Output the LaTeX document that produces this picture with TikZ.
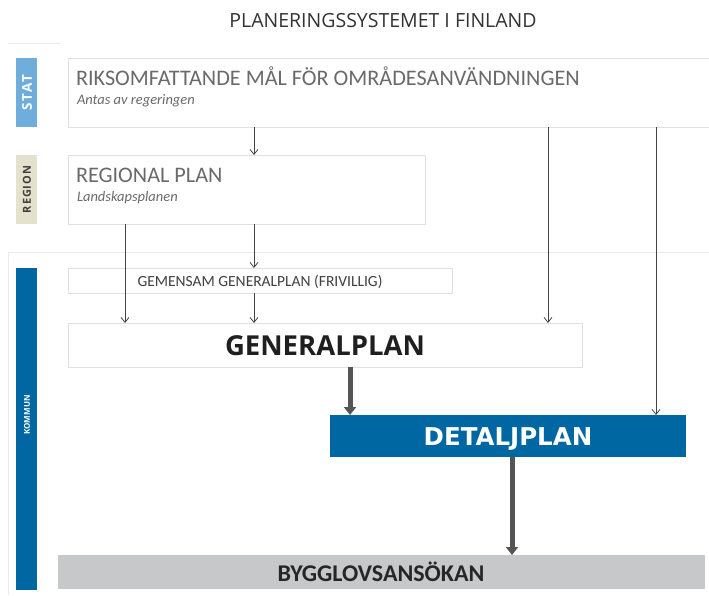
\documentclass[tikz,border=0pt]{standalone}
\usepackage{fontspec}
\setmainfont{Open Sans}
\newfontfamily\carl{Carlito}
\newfontfamily\dvs{DejaVu Sans}
\usetikzlibrary{arrows.meta}
\definecolor{statblue}{HTML}{6FAEDC}
\definecolor{regbeige}{HTML}{E4E2CC}
\definecolor{kblue}{HTML}{0067A2}
\definecolor{bgray}{HTML}{C7C8C9}
\definecolor{txtgray}{HTML}{6A6A6A}
\definecolor{arrgray}{HTML}{444444}
\definecolor{thickgray}{HTML}{555555}
\tikzset{
  every node/.style={inner sep=0pt, outer sep=0pt},
  lvl/.style={anchor=north west, minimum width=21pt, fill=#1},
  plainbox/.style={anchor=north west, draw=black!12, line width=0.6pt, fill=white},
  thinarrow/.style={draw=arrgray, line width=0.8pt, -{Straight Barb[length=5pt,width=8pt,line width=0.8pt]}},
  thickarrow/.style={draw=thickgray, line width=5pt, -{Triangle[length=8pt,width=12pt]}},
  panel/.style={draw=black!8, line width=0.6pt},
}
\begin{document}
\begin{tikzpicture}[x=1pt,y=-1pt]
\useasboundingbox (0,0) rectangle (709,595);
% faint panels
\draw[panel] (8,252) -- (709,252);
\draw[panel] (8,252) -- (8,595);
\draw[panel] (8,43) -- (60,43);
% title
\node[anchor=base, font=\fontsize{19.5}{22}\selectfont, text=black!80] (title) at (383,27) {PLANERINGSSYSTEMET I FINLAND};
% level tabs
\node[lvl=statblue, minimum height=69pt] (stat) at (16,58) {};
\node[rotate=90, text=white, font=\fontsize{13.5}{15}\selectfont\bfseries\addfontfeatures{LetterSpace=14}] (statt) at (27,92.5) {STAT};
\node[lvl=regbeige, minimum height=69pt] (region) at (16,155) {};
\node[rotate=90, text=black!75, font=\fontsize{11}{12}\selectfont\bfseries\addfontfeatures{LetterSpace=8}] (regiont) at (27,189.5) {REGION};
\node[lvl=kblue, minimum height=322pt] (kommun) at (16,268) {};
\node[rotate=90, text=white, font=\fontsize{8}{10}\selectfont\bfseries] (kommunt) at (27,415) {KOMMUN};
% boxes
\node[plainbox, minimum width=641pt, minimum height=69pt] (riks) at (68,58) {};
\node[anchor=base west, text=txtgray, font=\carl\fontsize{22.2}{25}\selectfont] (rikst) at (76,85) {RIKSOMFATTANDE MÅL FÖR OMRÅDESANVÄNDNINGEN};
\node[anchor=base west, text=txtgray, font=\carl\fontsize{14.5}{16}\selectfont\itshape] (rikss) at (77,104) {Antas av regeringen};
\node[plainbox, minimum width=357pt, minimum height=69pt] (regional) at (68,155) {};
\node[anchor=base west, text=txtgray, font=\carl\fontsize{22.2}{25}\selectfont] (regionalt) at (76,182) {REGIONAL PLAN};
\node[anchor=base west, text=txtgray, font=\carl\fontsize{14.5}{16}\selectfont\itshape] (regionals) at (77,201) {Landskapsplanen};
\node[plainbox, minimum width=384pt, minimum height=25pt] (gem) at (68,268) {};
\node[anchor=base, text=black!75, font=\carl\fontsize{15.5}{18}\selectfont] (gemt) at (260,286) {GEMENSAM GENERALPLAN (FRIVILLIG)};
\node[plainbox, minimum width=514pt, minimum height=44pt] (gen) at (68,323) {};
\node[anchor=base, text=black!88, font=\fontsize{27.5}{31}\selectfont\bfseries] (gent) at (325,355) {GENERALPLAN};
\node[anchor=north west, fill=kblue, minimum width=356pt, minimum height=42pt] (det) at (330,415) {};
\node[anchor=base, text=white, font=\dvs\fontsize{24.5}{28}\selectfont\bfseries] (dett) at (508,445) {DETALJPLAN};
\node[anchor=north west, fill=bgray, minimum width=647pt, minimum height=34pt] (bygg) at (58,555) {};
\node[anchor=base, text=black!85, font=\carl\fontsize{24}{28}\selectfont\bfseries] (byggt) at (381,581) {BYGGLOVSANSÖKAN};
% arrow columns
\coordinate (xa) at (125,0);
\coordinate (xb) at (254,0);
\coordinate (xc) at (548,0);
\coordinate (xd) at (656,0);
\coordinate (xe) at (350,0);
\coordinate (xf) at (512,0);
\draw[thinarrow] (riks.south -| xb) -- (regional.north -| xb);
\draw[thinarrow] (regional.south -| xb) -- (gem.north -| xb);
\draw[thinarrow] (regional.south -| xa) -- (gen.north -| xa);
\draw[thinarrow] (gem.south -| xb) -- (gen.north -| xb);
\draw[thinarrow] (riks.south -| xc) -- (gen.north -| xc);
\draw[thinarrow] (riks.south -| xd) -- (det.north -| xd);
\draw[thickarrow] (gen.south -| xe) -- (det.north -| xe);
\draw[thickarrow] (det.south -| xf) -- (bygg.north -| xf);
\end{tikzpicture}
\end{document}
